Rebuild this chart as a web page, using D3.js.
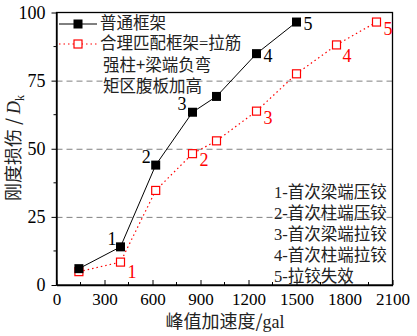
<!DOCTYPE html>
<html><head><meta charset="utf-8">
<script src="https://cdn.jsdelivr.net/npm/d3@7"></script>
<style>body{margin:0;background:#fff}svg{display:block}</style>
</head><body>
<svg id="c" width="417" height="336"></svg>
<script>
const xValues = [140, 400, 620, 850, 1000, 1250, 1500];
const blackY = [6.0, 14.0, 44.0, 63.4, 69.2, 84.9, 96.5];
const redX = [140, 400, 620, 850, 1000, 1250, 1500, 1750, 2000];
const redY = [4.9, 8.4, 34.7, 48.2, 52.9, 63.8, 77.5, 88.1, 96.5];
const blackLabels = [[1,"1"],[2,"2"],[3,"3"],[5,"4"],[6,"5"]];
const redLabels = [[1,"1"],[3,"2"],[5,"3"],[7,"4"],[8,"5"]];
const xTicks = [0,300,600,900,1200,1500,1800,2100];
const yTicks = [0,25,50,75,100];
const gridY = [25,50,75];
const legendNames = [["普通框架"],["合理匹配框架","=","拉筋"],["强柱+梁端负弯"],["矩区腹板加高"]];
const noteNums = ["1-","2-","3-","4-","5-"];
const notes = ["首次梁端压铰","首次柱端压铰","首次梁端拉铰","首次柱端拉铰","拉铰失效"];

const svg = d3.select("#c");
const L=56.5, R=392.5, T=12.5, B=285;
const x = d3.scaleLinear().domain([0,2100]).range([L,R]);
const y = d3.scaleLinear().domain([0,100]).range([B,T]);
const serif = "'Liberation Serif','Times New Roman',serif";
const cjk = "'Noto Sans CJK SC','Noto Sans CJK JP',sans-serif";

// grid
svg.append("g").selectAll("line").data(gridY).join("line")
  .attr("x1",L).attr("x2",R).attr("y1",d=>y(d)+0.5).attr("y2",d=>y(d)+0.5)
  .attr("stroke","#808080").attr("stroke-width",1).attr("stroke-dasharray","6,4");

// frame
svg.append("rect").attr("x",L).attr("y",T).attr("width",R-L).attr("height",B-T)
  .attr("fill","none").attr("stroke","#000").attr("stroke-width",1.3);

// x axis ticks inside
const xAxis = d3.axisBottom(x).tickValues(xTicks).tickFormat(d3.format("d"))
  .tickSizeInner(-5).tickSizeOuter(0).tickPadding(8);
const gx = svg.append("g").attr("transform",`translate(0,${B})`).call(xAxis);
gx.select(".domain").attr("stroke-width",1.3);
gx.selectAll("text").attr("font-family",serif).attr("font-size",17).attr("fill","#000");
const xMinor = d3.range(150,2100,300);
svg.append("g").selectAll("line").data(xMinor).join("line")
  .attr("x1",d=>x(d)).attr("x2",d=>x(d)).attr("y1",B).attr("y2",B-3).attr("stroke","#000");

// y axis ticks outside
const yAxis = d3.axisLeft(y).tickValues(yTicks).tickFormat(d3.format("d"))
  .tickSizeInner(5).tickSizeOuter(0).tickPadding(6);
const gy = svg.append("g").attr("transform",`translate(${L},0)`).call(yAxis);
gy.select(".domain").attr("stroke-width",1.3);
gy.selectAll("text").attr("font-family",serif).attr("font-size",18).attr("fill","#000");
const yMinor = d3.range(12.5,100,25);
svg.append("g").selectAll("line").data(yMinor).join("line")
  .attr("x1",L).attr("x2",L-3).attr("y1",d=>y(d)).attr("y2",d=>y(d)).attr("stroke","#000");

// red series
const redPts = redX.map((v,i)=>[v,redY[i]]);
svg.append("path").datum(redPts).attr("fill","none").attr("stroke","#ff0000")
  .attr("stroke-width",1.2).attr("stroke-dasharray","1.5,3")
  .attr("d",d3.line().x(d=>x(d[0])).y(d=>y(d[1])));
svg.append("g").selectAll("rect").data(redPts).join("rect")
  .attr("x",d=>x(d[0])-4).attr("y",d=>y(d[1])-4).attr("width",8).attr("height",8)
  .attr("fill","#fff").attr("stroke","#ff0000").attr("stroke-width",1.2);

// black series
const blkPts = xValues.map((v,i)=>[v,blackY[i]]);
svg.append("path").datum(blkPts).attr("fill","none").attr("stroke","#000").attr("stroke-width",1)
  .attr("d",d3.line().x(d=>x(d[0])).y(d=>y(d[1])));
svg.append("g").selectAll("rect").data(blkPts).join("rect")
  .attr("x",d=>x(d[0])-4.5).attr("y",d=>y(d[1])-4.5).attr("width",9).attr("height",9).attr("fill","#000");

// point labels
const bOff = {"1":[-13,-2],"2":[-14,-2],"3":[-15,-2],"4":[7,8],"5":[7,8]};
svg.append("g").selectAll("text").data(blackLabels).join("text")
  .attr("x",d=>x(blkPts[d[0]][0])+bOff[d[1]][0]).attr("y",d=>y(blkPts[d[0]][1])+bOff[d[1]][1])
  .attr("font-family",serif).attr("font-size",18).attr("fill","#000").text(d=>d[1]);
const rOff = {"1":[7,16],"2":[7,12],"3":[7,13],"4":[6,17],"5":[7,13]};
svg.append("g").selectAll("text").data(redLabels).join("text")
  .attr("x",d=>x(redPts[d[0]][0])+rOff[d[1]][0]).attr("y",d=>y(redPts[d[0]][1])+rOff[d[1]][1])
  .attr("font-family",serif).attr("font-size",18).attr("fill","#ff0000").text(d=>d[1]);

// legend
const lg = svg.append("g");
lg.append("line").attr("x1",59).attr("x2",97).attr("y1",24).attr("y2",24).attr("stroke","#000");
lg.append("rect").attr("x",73.5).attr("y",19.5).attr("width",9).attr("height",9).attr("fill","#000");
lg.append("line").attr("x1",59).attr("x2",97).attr("y1",44).attr("y2",44).attr("stroke","#ff0000")
  .attr("stroke-width",1.2).attr("stroke-dasharray","1.5,3");
lg.append("rect").attr("x",74).attr("y",40).attr("width",8).attr("height",8)
  .attr("fill","#fff").attr("stroke","#ff0000").attr("stroke-width",1.2);
const legX=[100,100,103,103], legY=[29,49,71,92];
lg.selectAll("text").data(legendNames).join("text")
  .attr("x",(d,i)=>legX[i]).attr("y",(d,i)=>legY[i])
  .attr("font-family",cjk).attr("font-size",16.5).attr("fill","#222")
  .each(function(parts){
    d3.select(this).selectAll("tspan").data(parts).join("tspan")
      .attr("font-family",p=>p==="="?serif:cjk).text(p=>p);
  });

// notes
const nt = svg.append("g").selectAll("text").data(notes).join("text")
  .attr("x",274).attr("y",(d,i)=>198+i*21)
  .attr("font-size",16.5).attr("fill","#222");
nt.append("tspan").attr("font-family",serif).text((d,i)=>noteNums[i]);
nt.append("tspan").attr("font-family",cjk).text(d=>d);

// axis titles
const xt = svg.append("text").attr("x",225).attr("y",328).attr("text-anchor","middle")
  .attr("font-size",18).attr("fill","#222");
xt.append("tspan").attr("font-family",cjk).text("峰值加速度/");
xt.append("tspan").attr("font-family",serif).text("gal");

const yt = svg.append("text").attr("transform","translate(20,148) rotate(-90)").attr("text-anchor","middle")
  .attr("font-size",18).attr("fill","#222");
yt.append("tspan").attr("font-family",cjk).text("刚度损伤 / ");
yt.append("tspan").attr("font-family",serif).attr("font-style","italic").text("D");
yt.append("tspan").attr("font-family",serif).attr("font-size",12).attr("dy",4).text("k");
</script>
</body></html>
